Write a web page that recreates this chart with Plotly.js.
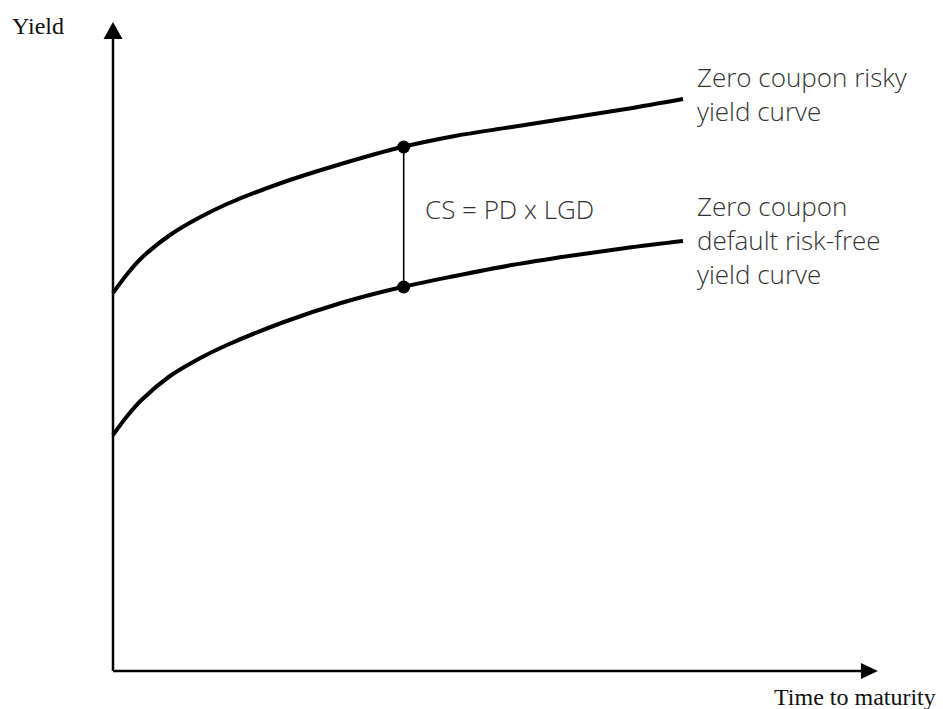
<!DOCTYPE html>
<html>
<head>
<meta charset="utf-8">
<script src="https://cdn.plot.ly/plotly-3.0.1.min.js"></script>
<style>
  html, body { margin: 0; padding: 0; background: #ffffff; }
  #chart { width: 943px; height: 709px; }
</style>
</head>
<body>
<div id="chart"></div>
<script>
// ---- data (time to maturity in arbitrary units, yield in arbitrary units) ----
var maturity = [0, 0.25, 0.5, 1, 1.5, 2, 3, 4, 5, 6, 7, 8, 9, 10];
var riskyYield = [37.8, 39.7, 41.3, 43.6, 45.3, 46.7, 48.9, 50.7, 52.3, 53.5, 54.4, 55.3, 56.2, 57.2];
var riskFreeYield = [23.6, 25.5, 27.1, 29.5, 31.2, 32.6, 34.9, 36.8, 38.3, 39.5, 40.6, 41.5, 42.3, 43.0];

var spreadMaturity = [5.1, 5.1];
var spreadYields = [52.4, 38.4];

var axisMaxMaturity = 13.42;
var axisMaxYield = 64.9;

var labelYAxis = "Yield";
var labelXAxis = "Time to maturity";
var labelSpread = "CS = PD x LGD";
var labelRisky = "Zero coupon risky<br>yield curve";
var labelRiskFree = "Zero coupon<br>default risk-free<br>yield curve";

// ---- layout helpers ----
var W = 943, H = 709;
function px(x) { return x / W; }
function py(y) { return 1 - y / H; }

var sansFont = { family: "Open Sans, Lato, sans-serif", size: 26, weight: 300, color: "#333333" };
var serifFont = { family: "Liberation Serif, Times New Roman, serif", size: 24, color: "#111111" };

var traces = [
  {
    x: maturity, y: riskyYield, type: "scatter", mode: "lines",
    line: { color: "#000000", width: 4, shape: "spline", smoothing: 1 },
    hoverinfo: "skip", showlegend: false
  },
  {
    x: maturity, y: riskFreeYield, type: "scatter", mode: "lines",
    line: { color: "#000000", width: 4, shape: "spline", smoothing: 1 },
    hoverinfo: "skip", showlegend: false
  },
  {
    x: spreadMaturity, y: spreadYields, type: "scatter", mode: "lines+markers",
    line: { color: "#000000", width: 1.6 },
    marker: { color: "#000000", size: 13 },
    hoverinfo: "skip", showlegend: false
  }
];

var layout = {
  width: W, height: H,
  margin: { l: 0, r: 0, t: 0, b: 0 },
  paper_bgcolor: "#ffffff",
  plot_bgcolor: "#ffffff",
  showlegend: false,
  xaxis: { range: [-113 / 57, (W - 113) / 57], visible: false, fixedrange: true },
  yaxis: { range: [(671 - H) / 10, 67.1], visible: false, fixedrange: true },
  shapes: [
    { type: "line", xref: "x", yref: "y", x0: 0, y0: 0, x1: 0, y1: axisMaxYield - 1.5,
      line: { color: "#000000", width: 2.5 } },
    { type: "line", xref: "x", yref: "y", x0: 0, y0: 0, x1: axisMaxMaturity - 0.25, y1: 0,
      line: { color: "#000000", width: 2.5 } },
    { type: "path", xref: "x", yref: "y", xsizemode: "pixel", ysizemode: "pixel",
      xanchor: 0, yanchor: axisMaxYield,
      path: "M -9.5,-17 L 9.5,-17 L 0,0 Z",
      fillcolor: "#000000", line: { color: "#000000", width: 0 } },
    { type: "path", xref: "x", yref: "y", xsizemode: "pixel", ysizemode: "pixel",
      xanchor: axisMaxMaturity, yanchor: 0,
      path: "M -17,8 L -17,-8 L 0,0 Z",
      fillcolor: "#000000", line: { color: "#000000", width: 0 } }
  ],
  annotations: [
    { text: labelYAxis, xref: "paper", yref: "paper", x: px(10), y: py(26),
      xanchor: "left", yanchor: "middle", showarrow: false, font: serifFont },
    { text: labelXAxis, xref: "paper", yref: "paper", x: px(772), y: py(697),
      xanchor: "left", yanchor: "middle", showarrow: false, font: serifFont },
    { text: labelSpread, xref: "paper", yref: "paper", x: px(423), y: py(209),
      xanchor: "left", yanchor: "middle", showarrow: false, font: sansFont },
    { text: labelRisky, xref: "paper", yref: "paper", x: px(695), y: py(94),
      xanchor: "left", yanchor: "middle", align: "left", showarrow: false, font: sansFont },
    { text: labelRiskFree, xref: "paper", yref: "paper", x: px(695), y: py(240),
      xanchor: "left", yanchor: "middle", align: "left", showarrow: false, font: sansFont }
  ]
};

Plotly.newPlot("chart", traces, layout, { staticPlot: true, displayModeBar: false });
</script>
</body>
</html>
